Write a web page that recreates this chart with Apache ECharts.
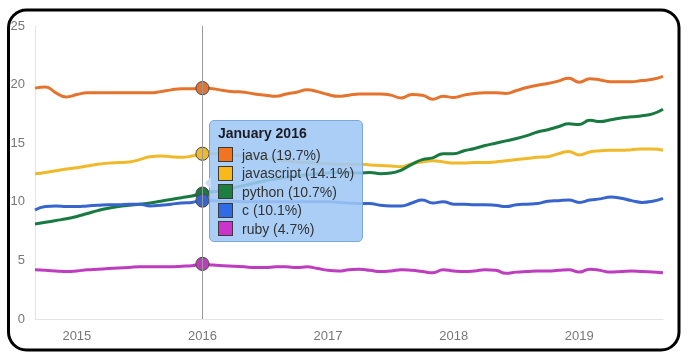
<!DOCTYPE html>
<html>
<head>
<meta charset="utf-8">
<script src="https://cdn.jsdelivr.net/npm/echarts@6/dist/echarts.min.js"></script>
<style>
  html, body { margin: 0; padding: 0; background: #fff; }
  #chart { width: 695px; height: 362px; }
</style>
</head>
<body>
<div id="chart"></div>
<script>
// ---- data ----
const months = [
  '2014-09','2014-10','2014-11','2014-12',
  '2015-01','2015-02','2015-03','2015-04','2015-05','2015-06','2015-07','2015-08','2015-09','2015-10','2015-11','2015-12',
  '2016-01','2016-02','2016-03','2016-04','2016-05','2016-06','2016-07','2016-08','2016-09','2016-10','2016-11','2016-12',
  '2017-01','2017-02','2017-03','2017-04','2017-05','2017-06','2017-07','2017-08','2017-09','2017-10','2017-11','2017-12',
  '2018-01','2018-02','2018-03','2018-04','2018-05','2018-06','2018-07','2018-08','2018-09','2018-10','2018-11','2018-12',
  '2019-01','2019-02','2019-03','2019-04','2019-05','2019-06','2019-07','2019-08','2019-09'
];
const seriesNames = ['java', 'javascript', 'python', 'c', 'ruby'];
const java = [19.7,19.8,19.3,18.95,19.15,19.3,19.3,19.3,19.3,19.3,
  19.3,19.3,19.4,19.55,19.65,19.65,19.7,19.65,19.5,19.4,
  19.35,19.2,19.1,19.0,19.2,19.35,19.55,19.4,19.15,19.0,
  19.1,19.2,19.2,19.2,19.1,18.85,19.15,19.1,18.75,19.0,
  18.9,19.1,19.25,19.3,19.3,19.25,19.5,19.75,19.95,20.1,
  20.3,20.55,20.2,20.5,20.4,20.25,20.25,20.25,20.35,20.45,
  20.7];
const javascript = [12.4,12.5,12.65,12.8,12.9,13.05,13.2,13.3,13.35,13.4,
  13.6,13.85,13.9,13.85,13.8,13.9,14.1,14.1,14.15,14.0,
  13.9,13.8,13.7,13.6,13.5,13.4,13.35,13.3,13.25,13.2,
  13.2,13.2,13.15,13.1,13.05,13.0,13.25,13.4,13.5,13.4,
  13.3,13.3,13.35,13.35,13.4,13.5,13.6,13.7,13.8,13.85,
  14.1,14.3,14.0,14.25,14.35,14.4,14.4,14.45,14.5,14.5,
  14.4];
const python = [8.1,8.25,8.4,8.55,8.75,9.0,9.25,9.45,9.6,9.7,
  9.8,9.9,10.05,10.2,10.35,10.5,10.7,10.85,11.0,11.2,
  11.4,11.6,11.8,11.95,12.1,12.2,12.3,12.4,12.45,12.5,
  12.5,12.45,12.5,12.4,12.45,12.7,13.2,13.6,13.75,14.1,
  14.1,14.35,14.55,14.8,15.0,15.2,15.4,15.65,15.95,16.15,
  16.4,16.65,16.6,16.95,16.85,17.0,17.15,17.25,17.35,17.5,
  17.9];
const c = [9.3,9.6,9.65,9.6,9.6,9.65,9.7,9.75,9.75,9.8,
  9.8,9.65,9.7,9.8,9.9,9.95,10.1,10.1,10.05,10.05,
  10.0,10.0,10.0,10.0,10.0,10.0,10.0,10.0,10.0,9.95,
  9.9,9.85,9.85,9.7,9.65,9.65,9.9,10.15,9.9,10.0,
  9.8,9.8,9.75,9.75,9.7,9.6,9.75,9.8,9.85,10.05,
  10.1,10.15,9.95,10.15,10.25,10.4,10.3,10.1,9.95,10.05,
  10.3];
const ruby = [4.2,4.15,4.1,4.05,4.1,4.2,4.25,4.3,4.35,4.4,
  4.45,4.45,4.45,4.45,4.5,4.55,4.7,4.6,4.55,4.5,
  4.45,4.4,4.4,4.45,4.45,4.4,4.45,4.3,4.15,4.1,
  4.2,4.25,4.15,4.05,4.1,4.2,4.15,4.05,3.95,4.2,
  4.1,4.05,4.1,4.2,4.15,3.9,4.0,4.05,4.1,4.1,
  4.15,4.2,4.0,4.25,4.15,4.0,4.05,4.1,4.05,4.0,
  3.95];
const yTicks = { min: 0, max: 25, interval: 5 };
const highlightMonth = '2016-01';
const monthNames = ['January','February','March','April','May','June','July','August','September','October','November','December'];

// ---- styles ----
const lineColors = ['#e6732d', '#f0b92a', '#197a41', '#3764cd', '#be3cbe'];
const swatchColors = ['#f4731f', '#f9b91a', '#1b7f3f', '#2f6be6', '#cc33cc'];
const allValues = [java, javascript, python, c, ruby];
const hlIndex = months.indexOf(highlightMonth);

const chart = echarts.init(document.getElementById('chart'), null, { renderer: 'canvas' });

const series = seriesNames.map((name, i) => ({
  name: name,
  type: 'line',
  data: allValues[i],
  smooth: true,
  showSymbol: true,
  showAllSymbol: true,
  symbol: 'circle',
  symbolSize: (v, p) => (p.dataIndex === hlIndex ? 12 : 0),
  lineStyle: { color: lineColors[i], width: 3 },
  itemStyle: { color: lineColors[i], borderColor: '#4a4a4a', borderWidth: 1 },
  emphasis: { disabled: true },
  z: 2 + i
}));

function tooltipHtml(params) {
  const idx = params[0].dataIndex;
  const m = months[idx];
  const title = monthNames[parseInt(m.slice(5), 10) - 1] + ' ' + m.slice(0, 4);
  let html = '<div style="position:relative;width:136px;">';
  html += '<div style="position:absolute;left:-13px;top:53px;width:0;height:0;border-top:6px solid transparent;border-bottom:6px solid transparent;border-right:6px solid #c9def6;"></div>';
  html += '<div style="font:bold 14px Arial, \'Liberation Sans\', sans-serif;color:#1c1c24;line-height:18px;height:18px;margin-bottom:3.5px;">' + title + '</div>';
  seriesNames.forEach((name, i) => {
    const v = allValues[i][idx];
    html += '<div style="display:flex;align-items:center;height:18.5px;">' +
      '<span style="display:inline-block;width:13px;height:13px;background:' + swatchColors[i] + ';border:1px solid #3a3a3a;margin-right:9px;flex:none;"></span>' +
      '<span style="font:14px Arial, \'Liberation Sans\', sans-serif;color:#333;white-space:nowrap;">' + name + ' (' + v.toFixed(1) + '%)</span></div>';
  });
  html += '</div>';
  return html;
}

chart.setOption({
  animation: false,
  backgroundColor: '#fff',
  grid: { left: 35, right: 32, top: 26, bottom: 43, containLabel: false },
  xAxis: {
    type: 'category',
    data: months,
    boundaryGap: false,
    axisLine: { show: true, lineStyle: { color: '#e4e4e4', width: 1 } },
    axisTick: { show: false },
    splitLine: { show: false },
    axisLabel: {
      interval: (i, v) => v.endsWith('-01'),
      formatter: v => v.slice(0, 4),
      color: '#777',
      fontSize: 13,
      fontFamily: 'Arial, "Liberation Sans", sans-serif',
      margin: 11
    }
  },
  yAxis: {
    type: 'value',
    min: yTicks.min, max: yTicks.max, interval: yTicks.interval,
    axisLine: { show: true, lineStyle: { color: '#e4e4e4', width: 1 } },
    axisTick: { show: false },
    splitLine: { show: false },
    axisLabel: {
      color: '#777',
      fontSize: 13,
      fontFamily: 'Arial, "Liberation Sans", sans-serif',
      margin: 10
    }
  },
  tooltip: {
    trigger: 'axis',
    triggerOn: 'none',
    alwaysShowContent: true,
    transitionDuration: 0,
    position: [209, 120],
    backgroundColor: 'rgba(158,199,245,0.88)',
    borderColor: '#7ea7d8',
    borderWidth: 1,
    padding: [3, 8, 3, 8],
    extraCssText: 'box-shadow:none;border-radius:5px;overflow:visible;',
    axisPointer: { type: 'line', lineStyle: { color: '#999', width: 1, type: 'solid' }, animation: false },
    formatter: tooltipHtml
  },
  graphic: [{
    type: 'rect',
    shape: { x: 8.5, y: 10, width: 670.5, height: 340, r: 18 },
    style: { fill: 'none', stroke: '#000', lineWidth: 3 },
    z: 100,
    silent: true
  }],
  series: series
});

chart.dispatchAction({ type: 'showTip', seriesIndex: 0, dataIndex: hlIndex });
</script>
</body>
</html>
